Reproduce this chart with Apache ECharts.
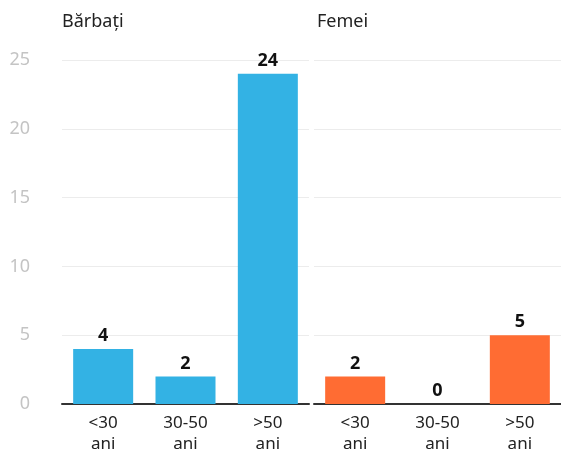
<!DOCTYPE html>
<html>
<head>
<meta charset="utf-8">
<script src="https://cdn.jsdelivr.net/npm/echarts@6/dist/echarts.min.js"></script>
<style>
  html, body { margin: 0; padding: 0; background: #fff; }
  #chart { width: 561px; height: 454px; }
</style>
</head>
<body>
<div id="chart"></div>
<script>
const categories = ['<30\nani', '30-50\nani', '>50\nani']
const barbati = [4, 2, 24]
const femei = [2, 0, 5]
const panelTitles = ['Bărbați', 'Femei']

const font = '"Noto Sans", sans-serif'
const chart = echarts.init(document.getElementById('chart'))

function xAxisFor(gridIndex) {
  return {
    type: 'category',
    gridIndex: gridIndex,
    data: categories,
    axisTick: { show: false },
    axisLine: { lineStyle: { color: '#333', width: 2 } },
    axisLabel: {
      color: '#222',
      fontFamily: font,
      fontSize: 17,
      lineHeight: 21,
      margin: 9
    }
  }
}

function yAxisFor(gridIndex, showLabels) {
  return {
    type: 'value',
    gridIndex: gridIndex,
    min: 0,
    max: 25,
    interval: 5,
    axisLine: { show: false },
    axisTick: { show: false },
    splitLine: { lineStyle: { color: '#ececec', width: 1 } },
    axisLabel: {
      show: showLabels,
      color: '#c4c4c4',
      fontFamily: font,
      fontSize: 18,
      margin: 32
    }
  }
}

function seriesFor(idx, data, color) {
  return {
    type: 'bar',
    xAxisIndex: idx,
    yAxisIndex: idx,
    data: data,
    barWidth: 60,
    itemStyle: { color: color },
    label: {
      show: true,
      position: 'top',
      distance: 4,
      color: '#111',
      fontFamily: font,
      fontWeight: 'bold',
      fontSize: 18
    }
  }
}

chart.setOption({
  animation: false,
  title: [
    {
      text: panelTitles[0],
      left: 57,
      top: 8,
      textStyle: { color: '#222', fontFamily: font, fontWeight: 'normal', fontSize: 18 }
    },
    {
      text: panelTitles[1],
      left: 312,
      top: 8,
      textStyle: { color: '#222', fontFamily: font, fontWeight: 'normal', fontSize: 18 }
    }
  ],
  grid: [
    { left: 62, width: 247, top: 60, bottom: 50, outerBoundsMode: 'none' },
    { left: 314, width: 247, top: 60, bottom: 50, outerBoundsMode: 'none' }
  ],
  xAxis: [xAxisFor(0), xAxisFor(1)],
  yAxis: [yAxisFor(0, true), yAxisFor(1, false)],
  series: [
    seriesFor(0, barbati, '#33b2e4'),
    seriesFor(1, femei, '#ff6c33')
  ]
})
</script>
</body>
</html>
